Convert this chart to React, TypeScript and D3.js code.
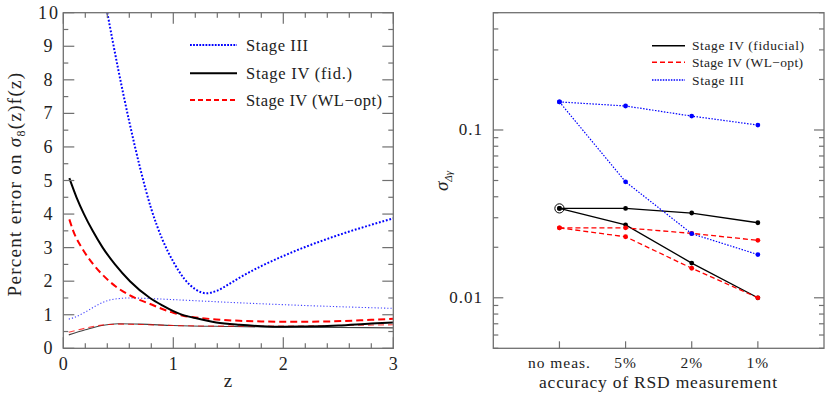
import React from "react";
import * as d3 from "d3";

// ---------- Left panel data ----------
const s3UpperZ = [0.4, 0.5, 0.6, 0.7, 0.8, 0.9, 1.0, 1.1, 1.2, 1.3, 1.4, 1.5, 1.6, 1.8, 2.0, 2.2, 2.4, 2.6, 2.8, 3.0];
const s3UpperV = [10, 8.3, 6.75, 5.35, 4.15, 3.25, 2.58, 2.07, 1.76, 1.64, 1.72, 1.9, 2.1, 2.45, 2.75, 3.02, 3.26, 3.48, 3.68, 3.87];
const s3LowerZ = [0.05, 0.1, 0.2, 0.3, 0.4, 0.5, 0.6, 0.8, 1.0, 1.5, 2.0, 2.5, 3.0];
const s3LowerV = [0.87, 0.92, 1.08, 1.27, 1.42, 1.48, 1.5, 1.48, 1.45, 1.37, 1.3, 1.24, 1.19];
const s4FidZ = [0.055, 0.12, 0.188, 0.267, 0.358, 0.47, 0.606, 0.788, 0.9, 1.0, 1.09, 1.2, 1.39, 1.6, 1.8, 2.0, 2.2, 2.5, 2.8, 3.0];
const s4FidV = [5.07, 4.5, 4.0, 3.5, 3.0, 2.5, 2.0, 1.5, 1.28, 1.11, 0.99, 0.9, 0.77, 0.7, 0.66, 0.645, 0.65, 0.68, 0.74, 0.77];
const s4WLZ = [0.055, 0.09, 0.167, 0.273, 0.418, 0.652, 0.79, 0.9, 1.0, 1.09, 1.2, 1.39, 1.6, 1.8, 2.0, 2.4, 2.8, 3.0];
const s4WLV = [3.84, 3.5, 3.0, 2.5, 2.0, 1.5, 1.32, 1.17, 1.06, 0.97, 0.92, 0.86, 0.82, 0.8, 0.79, 0.8, 0.85, 0.88];
const s4FidLowZ = [0.05, 0.2, 0.35, 0.5, 0.7, 1.0, 1.5, 2.0, 2.5, 3.0];
const s4FidLowV = [0.4, 0.55, 0.68, 0.73, 0.72, 0.68, 0.65, 0.63, 0.62, 0.61];
const s4WLLowZ = [0.05, 0.2, 0.35, 0.5, 0.7, 1.0, 1.5, 2.0, 2.5, 3.0];
const s4WLLowV = [0.48, 0.6, 0.69, 0.72, 0.71, 0.68, 0.66, 0.66, 0.68, 0.7];
const leftXTicks = [0, 1, 2, 3];
const leftYTicks = [0, 1, 2, 3, 4, 5, 6, 7, 8, 9, 10];
const leftLegend = ["Stage III", "Stage IV (fid.)", "Stage IV (WL\u2212opt)"];

// ---------- Right panel data ----------
const categories = ["no meas.", "5%", "2%", "1%"];
const fidUpper = [0.0341, 0.0341, 0.032, 0.028];
const fidLower = [0.0341, 0.0272, 0.0161, 0.01];
const wlUpper = [0.0261, 0.0261, 0.0242, 0.022];
const wlLower = [0.0261, 0.0231, 0.015, 0.01];
const s3Upper = [0.147, 0.139, 0.121, 0.107];
const s3Lower = [0.147, 0.0491, 0.0241, 0.0181];
const rightYLabels = [0.1, 0.01];
const rightLegend = ["Stage IV (fiducial)", "Stage IV (WL\u2212opt)", "Stage III"];

const BLUE = "#0000ff";
const RED = "#ff0000";
const FRAME = "#707070";
const TXT = "#222";
const SERIF = '"Liberation Serif", "Times New Roman", "DejaVu Serif", serif';

export default function App() {
  const lx = d3.scaleLinear().domain([0, 3]).range([63.3, 393.3]);
  const ly = d3.scaleLinear().domain([0, 10]).range([348.3, 12.7]);
  const line = d3
    .line<[number, number]>()
    .x((d) => lx(d[0]))
    .y((d) => ly(d[1]))
    .curve(d3.curveMonotoneX);
  const pts = (z: number[], v: number[]) => z.map((zz, i) => [zz, v[i]] as [number, number]);

  const rx = d3.scaleLinear().domain([-1, 4]).range([493.3, 824]);
  const ry = d3.scaleLog().domain([0.005, 0.5]).range([348.3, 12.7]);
  const rline = d3
    .line<number>()
    .x((_, i) => rx(i))
    .y((d) => ry(d));

  const lxMinor = d3.range(0, 3.0001, 0.2);
  const lyMinor = d3.range(0, 10.0001, 0.5);
  const ryMinor: number[] = [];
  [0.001, 0.01, 0.1].forEach((dec) => {
    for (let k = 2; k <= 9; k++) {
      const v = dec * k;
      if (v >= 0.005 && v <= 0.5) ryMinor.push(v);
    }
  });

  const [lx0, lx1] = lx.range();
  const [ly0, ly1] = ly.range();
  const [rx0, rx1] = rx.range();
  const [ry0, ry1] = ry.range();

  const seriesRight = [
    { d: fidUpper, color: "#000", dash: undefined, w: 1.3 },
    { d: fidLower, color: "#000", dash: undefined, w: 1.3 },
    { d: wlUpper, color: RED, dash: "5 3", w: 1.3 },
    { d: wlLower, color: RED, dash: "5 3", w: 1.3 },
    { d: s3Upper, color: BLUE, dash: "1.5 1.5", w: 1.2 },
    { d: s3Lower, color: BLUE, dash: "1.5 1.5", w: 1.2 },
  ];

  const leftLegW = [62, 106, 136];
  const rightLegW = [112, 111, 52];

  return (
    <svg
      width={832}
      height={393}
      style={{ position: "absolute", left: 0, top: 0, background: "#fff", fontFamily: SERIF }}
    >
      <defs>
        <clipPath id="lclip">
          <rect x={lx0} y={ly1} width={lx1 - lx0} height={ly0 - ly1} />
        </clipPath>
      </defs>

      {/* ---------- LEFT PANEL ---------- */}
      <g clipPath="url(#lclip)">
        <path d={line(pts(s4FidLowZ, s4FidLowV)) || ""} fill="none" stroke="#444" strokeWidth={1.1} />
        <path d={line(pts(s4WLLowZ, s4WLLowV)) || ""} fill="none" stroke={RED} strokeWidth={1.1} strokeDasharray="6 4" opacity={0.75} />
        <path d={line(pts(s3LowerZ, s3LowerV)) || ""} fill="none" stroke={BLUE} strokeWidth={1.1} strokeDasharray="1.2 2" opacity={0.75} />
        <path d={line(pts(s3UpperZ, s3UpperV)) || ""} fill="none" stroke={BLUE} strokeWidth={2} strokeDasharray="1.8 1.8" />
        <path d={line(pts(s4WLZ, s4WLV)) || ""} fill="none" stroke={RED} strokeWidth={2} strokeDasharray="7 4" />
        <path d={line(pts(s4FidZ, s4FidV)) || ""} fill="none" stroke="#000" strokeWidth={2} />
      </g>
      <rect x={lx0} y={ly1} width={lx1 - lx0} height={ly0 - ly1} fill="none" stroke={FRAME} strokeWidth={1.3} />
      {lxMinor.map((t, i) => {
        const major = Math.abs(t - Math.round(t)) < 1e-6;
        const len = major ? 11 : 5;
        return (
          <g key={"lxt" + i} stroke={FRAME} strokeWidth={1.2}>
            <line x1={lx(t)} x2={lx(t)} y1={ly0} y2={ly0 - len} />
            <line x1={lx(t)} x2={lx(t)} y1={ly1} y2={ly1 + len} />
          </g>
        );
      })}
      {lyMinor.map((t, i) => {
        const major = Math.abs(t - Math.round(t)) < 1e-6;
        const len = major ? 11 : 5;
        return (
          <g key={"lyt" + i} stroke={FRAME} strokeWidth={1.2}>
            <line x1={lx0} x2={lx0 + len} y1={ly(t)} y2={ly(t)} />
            <line x1={lx1} x2={lx1 - len} y1={ly(t)} y2={ly(t)} />
          </g>
        );
      })}
      {leftXTicks.map((t) => (
        <text key={"lxl" + t} x={lx(t)} y={370} textAnchor="middle" fontSize={18} fill={TXT}>
          {t}
        </text>
      ))}
      {leftYTicks.map((t) => (
        <text key={"lyl" + t} x={49} y={ly(t) + 6} textAnchor="middle" fontSize={18} fill={TXT} letterSpacing={2}>
          {t}
        </text>
      ))}
      <text x={228} y={387} textAnchor="middle" fontSize={19} fill={TXT}>
        z
      </text>
      <text
        transform={`translate(21,184) rotate(-90)`}
        textAnchor="middle"
        fontSize={19}
        fill={TXT}
        letterSpacing={1.3}
      >
        Percent error on <tspan fontStyle="italic">σ</tspan>
        <tspan fontSize={12} dy={4}>8</tspan>
        <tspan dy={-4}>(z)f(z)</tspan>
      </text>
      {leftLegend.map((lab, i) => {
        const y = [45, 73.3, 100][i];
        const st = [
          { c: BLUE, dash: "1.8 1.3", w: 2 },
          { c: "#000", dash: undefined, w: 2 },
          { c: RED, dash: "5 3", w: 2 },
        ][i];
        return (
          <g key={"ll" + i}>
            <line x1={190} x2={237} y1={y} y2={y} stroke={st.c} strokeWidth={st.w} strokeDasharray={st.dash} />
            <text x={246} y={y + 5.5} fontSize={16.5} fill={TXT} textLength={leftLegW[i]} lengthAdjust="spacing">
              {lab}
            </text>
          </g>
        );
      })}

      {/* ---------- RIGHT PANEL ---------- */}
      {seriesRight.map((s, i) => (
        <g key={"rs" + i}>
          <path d={rline(s.d) || ""} fill="none" stroke={s.color} strokeWidth={s.w} strokeDasharray={s.dash} />
          {s.d.map((v, j) => (
            <circle key={j} cx={rx(j)} cy={ry(v)} r={2.4} fill={s.color} />
          ))}
        </g>
      ))}
      <circle cx={rx(0)} cy={ry(fidUpper[0])} r={4.6} fill="none" stroke="#000" strokeWidth={1} />
      <rect x={rx0} y={ry1} width={rx1 - rx0} height={ry0 - ry1} fill="none" stroke={FRAME} strokeWidth={1.3} />
      {categories.map((c, i) => (
        <g key={"rc" + i}>
          <line x1={rx(i)} x2={rx(i)} y1={ry0} y2={ry0 - 7} stroke={FRAME} strokeWidth={1.2} />
          <text x={rx(i)} y={368} textAnchor="middle" fontSize={15.5} fill={TXT} letterSpacing={1}>
            {c}
          </text>
        </g>
      ))}
      {rightYLabels.map((v) => (
        <g key={"ryl" + v} stroke={FRAME} strokeWidth={1.2}>
          <line x1={rx0} x2={rx0 + 10} y1={ry(v)} y2={ry(v)} />
          <line x1={rx1} x2={rx1 - 10} y1={ry(v)} y2={ry(v)} />
        </g>
      ))}
      {ryMinor.map((v, i) => (
        <g key={"rym" + i} stroke={FRAME} strokeWidth={1.2}>
          <line x1={rx0} x2={rx0 + 5} y1={ry(v)} y2={ry(v)} />
          <line x1={rx1} x2={rx1 - 5} y1={ry(v)} y2={ry(v)} />
        </g>
      ))}
      {rightYLabels.map((v) => (
        <text key={"rylt" + v} x={483} y={ry(v) + 5.5} textAnchor="end" fontSize={17} fill={TXT} letterSpacing={1}>
          {String(v)}
        </text>
      ))}
      <text x={658} y={388} textAnchor="middle" fontSize={17.5} fill={TXT} textLength={238} lengthAdjust="spacing">
        accuracy of RSD measurement
      </text>
      <text transform={`translate(448,181) rotate(-90)`} textAnchor="middle" fontSize={19} fill={TXT}>
        <tspan fontStyle="italic">σ</tspan>
        <tspan fontSize={11} dy={4} fontStyle="italic">Δγ</tspan>
      </text>
      {rightLegend.map((lab, i) => {
        const y = [45.7, 62.3, 80][i];
        const st = [
          { c: "#000", dash: undefined },
          { c: RED, dash: "5 3" },
          { c: BLUE, dash: "1.5 1.2" },
        ][i];
        return (
          <g key={"rl" + i}>
            <line x1={652} x2={685} y1={y} y2={y} stroke={st.c} strokeWidth={1.6} strokeDasharray={st.dash} />
            <text x={692} y={y + 4.5} fontSize={13.5} fill={TXT} textLength={rightLegW[i]} lengthAdjust="spacing">
              {lab}
            </text>
          </g>
        );
      })}
    </svg>
  );
}
